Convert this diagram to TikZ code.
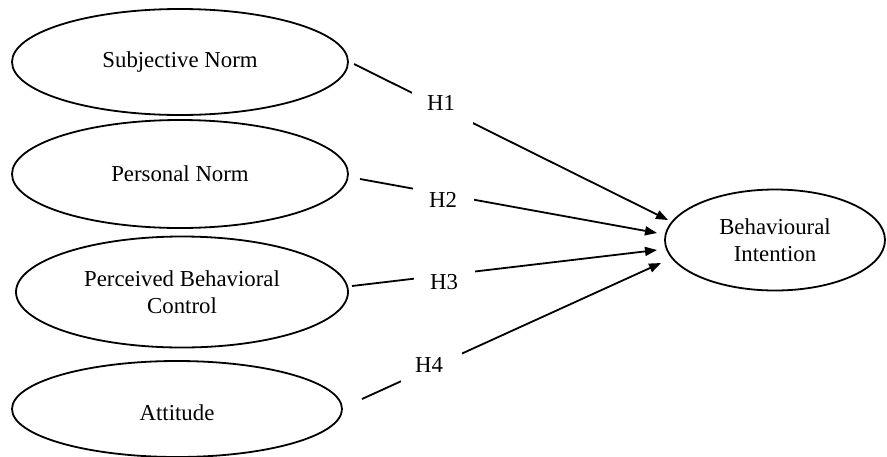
\documentclass[tikz,border=0pt]{standalone}
\usepackage{fontspec}
\setmainfont{Liberation Serif}
\usetikzlibrary{shapes.geometric,arrows.meta}
\begin{document}
\begin{tikzpicture}[x=1pt,y=-1pt,
  every node/.style={font=\fontsize{22.8}{27.5}\selectfont},
  construct/.style={draw, ellipse, line width=1.8pt, inner sep=0pt, align=center},
  gapbox/.style={fill=white, minimum width=61pt, minimum height=32pt, inner sep=0pt},
  hlab/.style={inner sep=0pt},
  link/.style={line width=1.8pt, -{Triangle[length=12pt,width=9pt]}}]
\useasboundingbox (0,0) rectangle (887,456);
% constructs
\node[construct, minimum width=336pt, minimum height=106pt] (sn) at (180,62) {Subjective Norm};
\node[construct, minimum width=336pt, minimum height=108pt] (pn) at (180,174) {Personal Norm};
\node[construct, minimum width=332pt, minimum height=111pt] (pbc) at (182,292) {Perceived Behavioral\\Control};
\node[construct, minimum width=330pt, minimum height=96pt, text height=23pt, text depth=0pt] (att) at (177,409) {Attitude};
\node[construct, minimum width=220pt, minimum height=101pt] (bi) at (775,240) {Behavioural\\Intention};
% connector ends
\coordinate (s1) at (354,64);  \coordinate (t1) at (668,220);
\coordinate (s2) at (360,179); \coordinate (t2) at (657,233);
\coordinate (s3) at (352,286); \coordinate (t3) at (657,250);
\coordinate (s4) at (362,399); \coordinate (t4) at (661,263);
% connectors
\draw[link] (s1) -- node[gapbox, pos=0.282] {} (t1);
\draw[link] (s2) -- node[gapbox, pos=0.281] {} (t2);
\draw[link] (s3) -- node[gapbox, pos=0.302] {} (t3);
\draw[link] (s4) -- node[gapbox, pos=0.231] {} (t4);
% labels
\node[hlab] (h1) at (441,103) {H1};
\node[hlab] (h2) at (443,200) {H2};
\node[hlab] (h3) at (444,282) {H3};
\node[hlab] (h4) at (429,365) {H4};
\end{tikzpicture}
\end{document}
